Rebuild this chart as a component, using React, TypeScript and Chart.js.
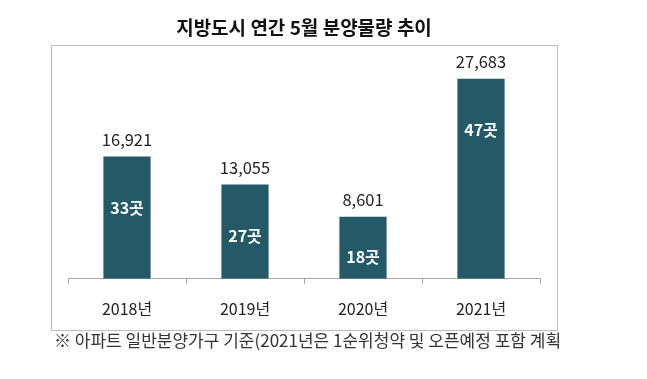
import React, { useEffect, useRef } from "react";
import { Chart, registerables } from "chart.js";

Chart.register(...registerables);

const TITLE = "지방도시 연간 5월 분양물량 추이";
const NOTE = "※ 아파트 일반분양가구 기준(2021년은 1순위청약 및 오픈예정 포함 계획";
const categories = ["2018년", "2019년", "2020년", "2021년"];
const supplyValues = [16921, 13055, 8601, 27683];
const siteCounts = [33, 27, 18, 47];

const FONT = "'Noto Sans CJK KR', 'Noto Sans', sans-serif";
const BAR_COLOR = "#245a68";

const labelPlugin = {
  id: "labels",
  afterDatasetsDraw(chart: any) {
    const ctx = chart.ctx;
    const meta = chart.getDatasetMeta(0);
    ctx.save();
    ctx.textAlign = "center";
    ctx.textBaseline = "middle";
    meta.data.forEach((bar: any, i: number) => {
      const v = supplyValues[i];
      ctx.fillStyle = "#222222";
      ctx.font = `16.5px ${FONT}`;
      ctx.fillText(v.toLocaleString("en-US"), bar.x, bar.y - 17);
      ctx.fillStyle = "#ffffff";
      ctx.font = `bold 16px ${FONT}`;
      const y = Math.min(bar.y + 51, bar.base - 22);
      ctx.fillText(`${siteCounts[i]}곳`, bar.x, y);
    });
    ctx.restore();
  },
  afterDraw(chart: any) {
    const ctx = chart.ctx;
    const area = chart.chartArea;
    const cx = (area.left + area.right) / 2;
    ctx.save();
    ctx.strokeStyle = "#bdbdbd";
    ctx.lineWidth = 1;
    ctx.strokeRect(51.5, 45.5, 506, 285);
    ctx.fillStyle = "#111111";
    ctx.font = `bold 19px ${FONT}`;
    ctx.textAlign = "center";
    ctx.textBaseline = "middle";
    ctx.fillText(TITLE, cx, 28);
    ctx.fillStyle = "#333333";
    ctx.font = `17px ${FONT}`;
    ctx.textAlign = "left";
    ctx.fillText(NOTE, 54, 341);
    ctx.restore();
  },
};

export default function App() {
  const ref = useRef<HTMLCanvasElement>(null);
  useEffect(() => {
    if (!ref.current) return;
    const chart = new Chart(ref.current, {
      type: "bar",
      data: {
        labels: categories,
        datasets: [
          {
            data: supplyValues,
            backgroundColor: BAR_COLOR,
            barPercentage: 0.4,
            categoryPercentage: 1,
          },
        ],
      },
      options: {
        responsive: false,
        animation: false,
        layout: { padding: { left: 68, right: 107, top: 62, bottom: 44 } },
        plugins: {
          legend: { display: false },
          tooltip: { enabled: false },
          title: { display: false },
        },
        scales: {
          x: {
            offset: true,
            border: { display: true, color: "#a6a6a6", width: 1 },
            grid: {
              display: true,
              offset: true,
              drawOnChartArea: false,
              drawTicks: true,
              tickLength: 5,
              color: "#a6a6a6",
            },
            ticks: {
              color: "#222222",
              font: { family: FONT, size: 16 },
              padding: 16,
            },
          },
          y: {
            display: false,
            min: 0,
            max: 30000,
          },
        },
      },
      plugins: [labelPlugin],
    });
    return () => chart.destroy();
  }, []);
  return (
    <div style={{ position: "fixed", left: 0, top: 0, width: 647, height: 379, background: "#fff" }}>
      <canvas ref={ref} width={647} height={379} />
    </div>
  );
}
